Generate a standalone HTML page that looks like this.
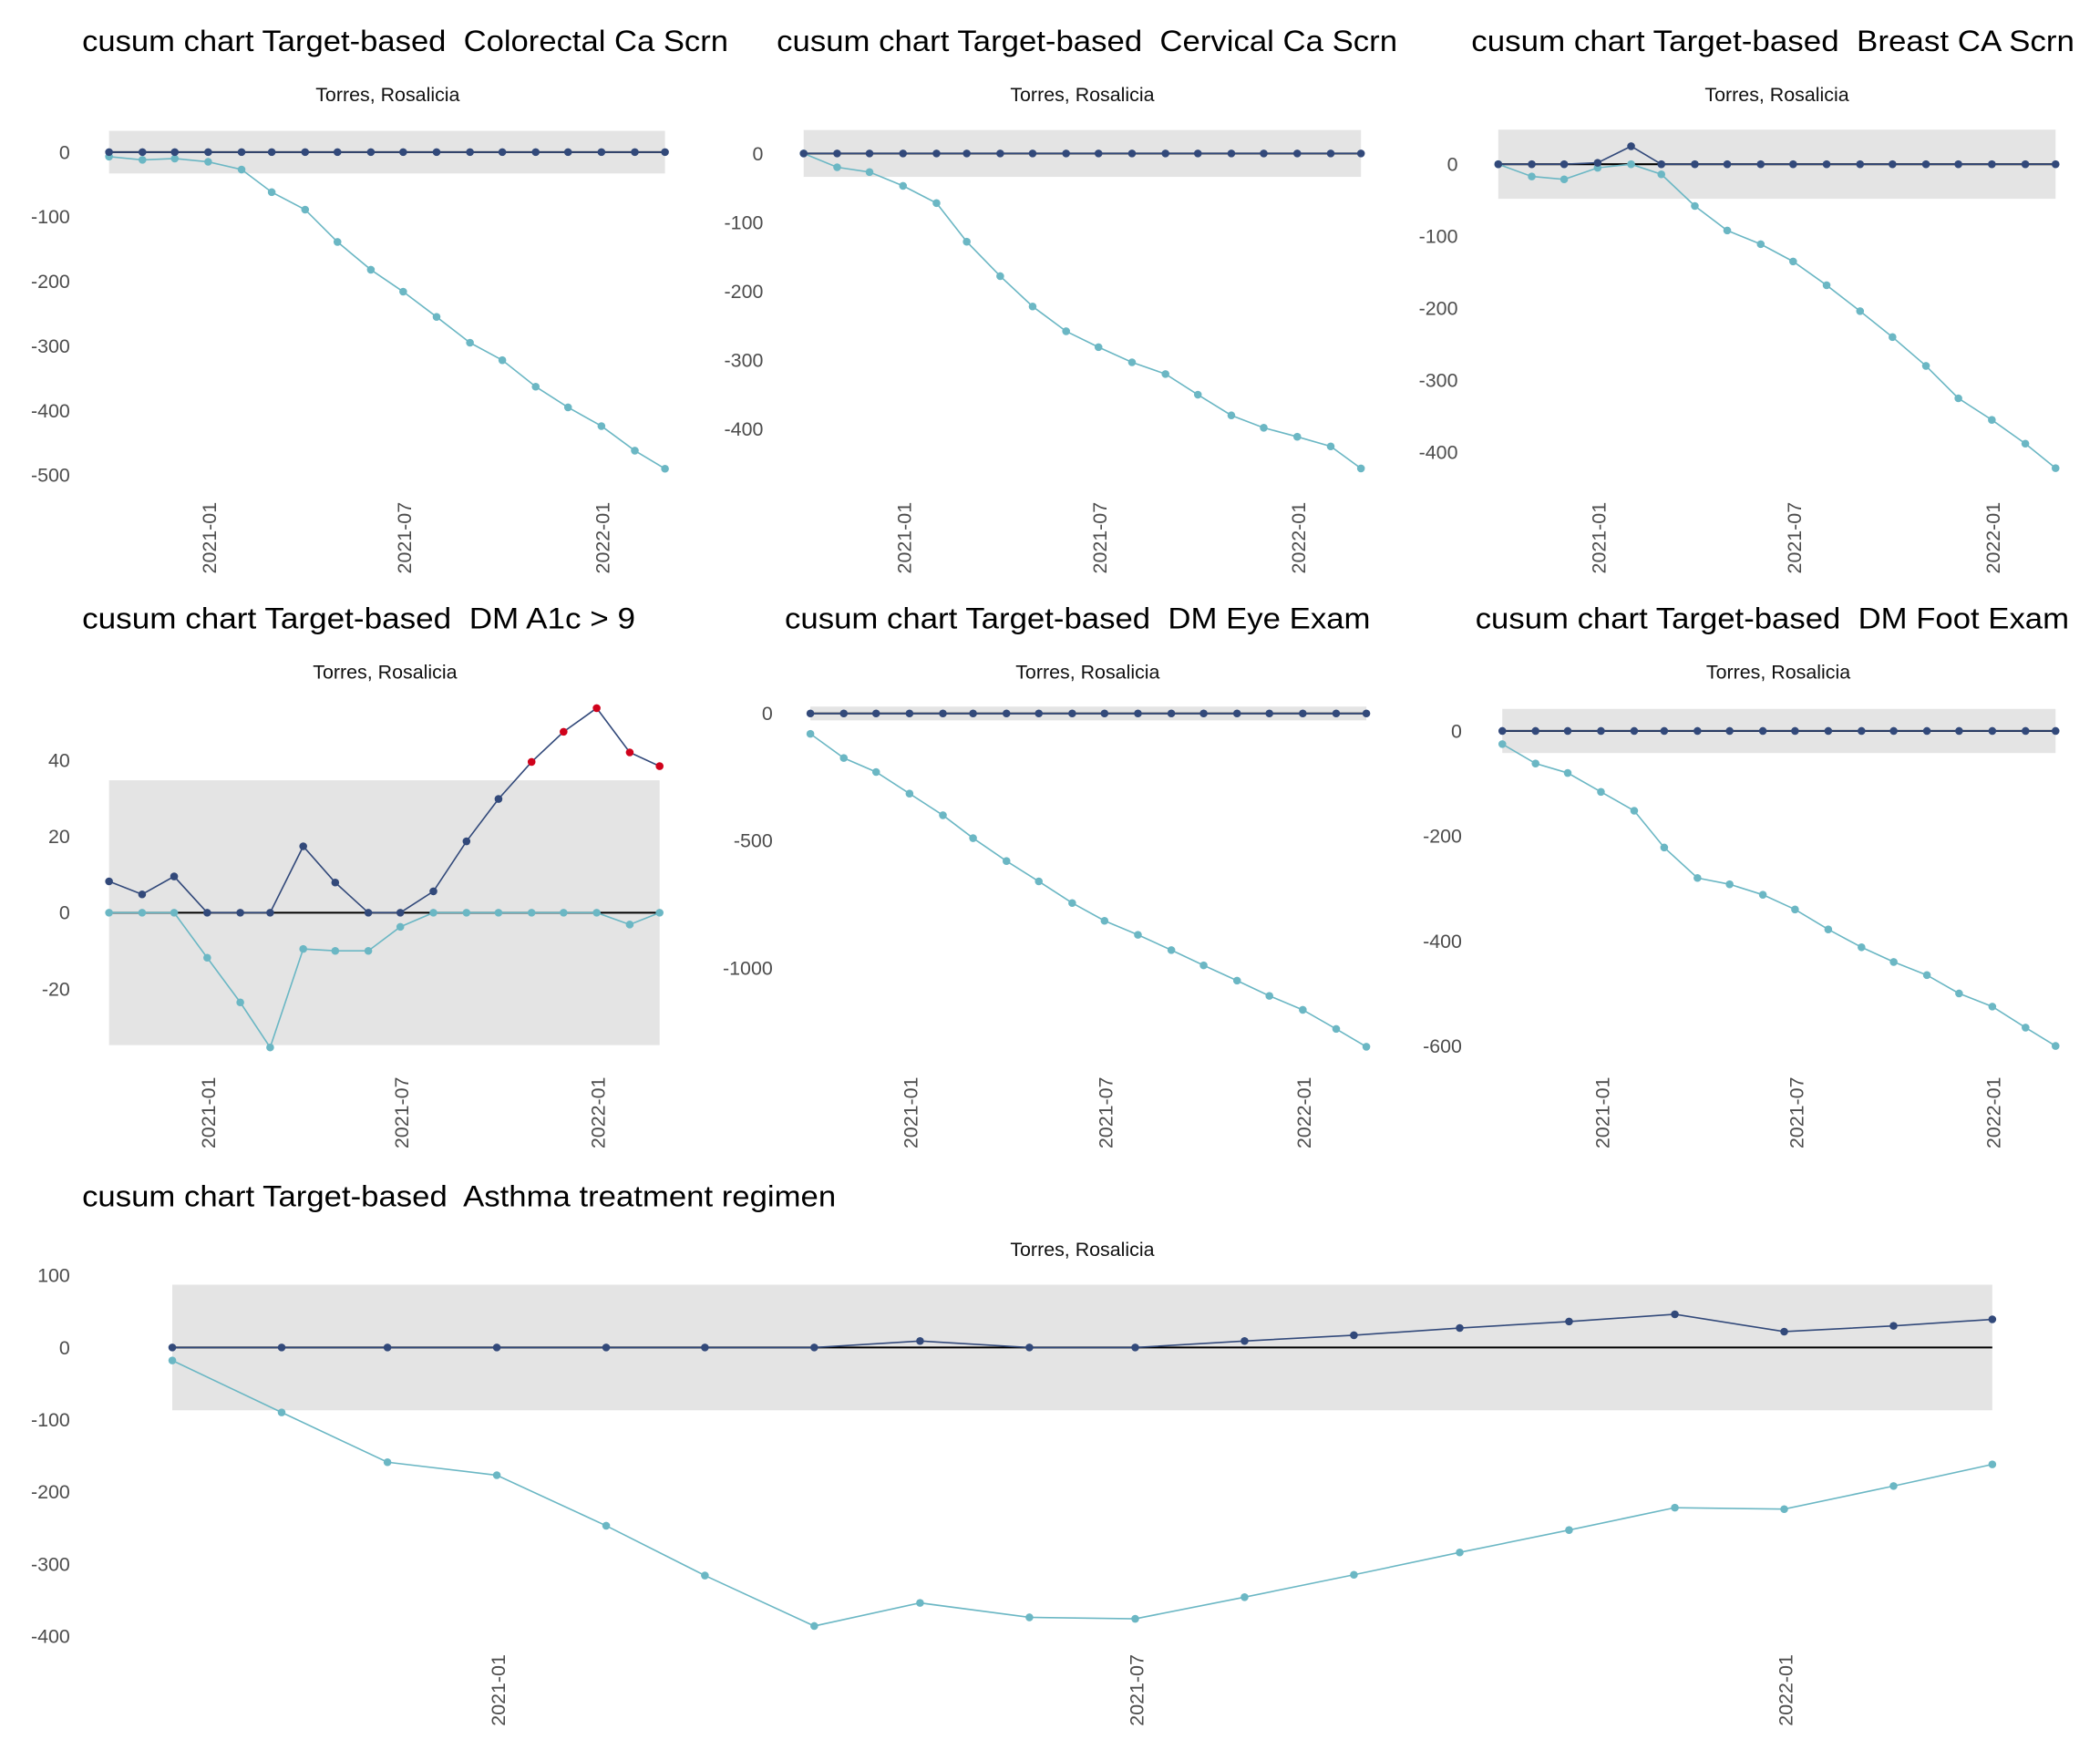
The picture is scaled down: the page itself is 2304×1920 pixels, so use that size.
<!DOCTYPE html>
<html><head><meta charset="utf-8">
<style>
html,body{margin:0;padding:0;background:#fff;}
svg{display:block;}
text{font-family:"Liberation Sans",Arial,sans-serif;white-space:pre;}
</style></head>
<body>
<svg id="chart" width="2304" height="1920" viewBox="0 0 1560 1300" xmlns="http://www.w3.org/2000/svg"></svg>
<script>
// ---- data ----
const months = ["2020-10-01","2020-11-01","2020-12-01","2021-01-01","2021-02-01","2021-03-01","2021-04-01","2021-05-01","2021-06-01","2021-07-01","2021-08-01","2021-09-01","2021-10-01","2021-11-01","2021-12-01","2022-01-01","2022-02-01","2022-03-01"];
const tickDates = ["2021-01-01","2021-07-01","2022-01-01"];
const tickDateLabels = ["2021-01","2021-07","2022-01"];

const titles = ["cusum chart Target-based  Colorectal Ca Scrn","cusum chart Target-based  Cervical Ca Scrn","cusum chart Target-based  Breast CA Scrn","cusum chart Target-based  DM A1c > 9","cusum chart Target-based  DM Eye Exam","cusum chart Target-based  DM Foot Exam","cusum chart Target-based  Asthma treatment regimen"];
const subtitle = "Torres, Rosalicia";

const upperColorectal = [0,0,0,0,0,0,0,0,0,0,0,0,0,0,0,0,0,0];
const lowerColorectal = [-7,-12,-10,-15,-27,-62,-89,-139,-182,-216,-255,-295,-322,-363,-395,-424,-462,-490];
const upperCervical = [0,0,0,0,0,0,0,0,0,0,0,0,0,0,0,0,0,0];
const lowerCervical = [0,-20,-27,-47,-72,-128,-178,-222,-258,-281,-303,-320,-350,-380,-398,-411,-425,-457];
const upperBreast = [0,0,0,2,25,0,0,0,0,0,0,0,0,0,0,0,0,0];
const lowerBreast = [0,-17,-21,-5,0,-14,-58,-92,-111,-135,-168,-204,-240,-280,-325,-355,-388,-422];
const upperA1c = [8.2,4.8,9.5,0,0,0,17.4,7.9,0,0,5.6,18.7,29.8,39.5,47.4,53.6,42,38.4];
const lowerA1c = [0,0,0,-11.8,-23.5,-35.3,-9.5,-10,-10,-3.7,0,0,0,0,0,0,-3.1,0];
const upperEye = [0,0,0,0,0,0,0,0,0,0,0,0,0,0,0,0,0,0];
const lowerEye = [-80,-175,-230,-315,-400,-490,-580,-660,-745,-815,-870,-930,-990,-1050,-1110,-1165,-1240,-1310];
const upperFoot = [0,0,0,0,0,0,0,0,0,0,0,0,0,0,0,0,0,0];
const lowerFoot = [-25,-62,-80,-116,-152,-222,-280,-292,-312,-340,-378,-412,-440,-465,-500,-525,-565,-600];
const upperAsthma = [0,0,0,0,0,0,0,9,0,0,9,17,27,36,46,22,30,39];
const lowerAsthma = [-18,-90,-159,-177,-247,-316,-386,-354,-374,-376,-346,-315,-284,-253,-222,-224,-192,-162];

const limits = [33,34,48,34.7,27,42,87];
const yTicks = [[0,-100,-200,-300,-400,-500],[0,-100,-200,-300,-400],[0,-100,-200,-300,-400],[40,20,0,-20],[0,-500,-1000],[0,-200,-400,-600],[100,0,-100,-200,-300,-400]];

// ---- layout (display units) ----
const panels = [
 {x0:81,x1:494,y0v:0,y0:113,ppu:0.48,tx:61,ty:38,tw:480,sx:288,sy:75,lx:52,ly:373,up:upperColorectal,lo:lowerColorectal},
 {x0:597,x1:1011,y0v:0,y0:114,ppu:0.512,tx:577,ty:38,tw:461,sx:804,sy:75,lx:567,ly:373,up:upperCervical,lo:lowerCervical},
 {x0:1113,x1:1527,y0v:0,y0:122,ppu:0.535,tx:1093,ty:38,tw:448,sx:1320,sy:75,lx:1083,ly:373,up:upperBreast,lo:lowerBreast},
 {x0:81,x1:490,y0v:0,y0:678,ppu:2.835,tx:61,ty:467,tw:411,sx:286,sy:504,lx:52,ly:800,up:upperA1c,lo:lowerA1c},
 {x0:602,x1:1015,y0v:0,y0:530,ppu:0.189,tx:583,ty:467,tw:435,sx:808,sy:504,lx:574,ly:800,up:upperEye,lo:lowerEye},
 {x0:1116,x1:1527,y0v:0,y0:543,ppu:0.39,tx:1096,ty:467,tw:441,sx:1321,sy:504,lx:1086,ly:800,up:upperFoot,lo:lowerFoot},
 {x0:128,x1:1480,y0v:0,y0:1001,ppu:0.536,tx:61,ty:896,tw:560,sx:804,sy:933,lx:52,ly:1229,up:upperAsthma,lo:lowerAsthma}
];
const NS="http://www.w3.org/2000/svg";
const svg=document.getElementById('chart');
function mk(tag,attrs,parent){const e=document.createElementNS(NS,tag);for(const k in attrs)e.setAttribute(k,attrs[k]);(parent||svg).appendChild(e);return e;}
const t0=Date.parse(months[0]), t1=Date.parse(months[months.length-1]);

panels.forEach((p,pi)=>{
  const g=mk('g',{});
  
  
  const xs=d=>p.x0+(Date.parse(d)-t0)/(t1-t0)*(p.x1-p.x0);
  const ys=v=>p.y0-(v-p.y0v)*p.ppu;
  const title=mk('text',{x:p.tx,y:p.ty,'font-size':22,fill:'#000',textLength:p.tw,lengthAdjust:'spacingAndGlyphs'},g);
  title.textContent=titles[pi];
  
  
  const sub=mk('text',{x:p.sx,y:p.sy,'font-size':14.5,fill:'#111','text-anchor':'middle'},g);
  sub.textContent=subtitle;
  
  
  const band=mk('rect',{x:p.x0,y:ys(limits[pi]),width:p.x1-p.x0,height:ys(-limits[pi])-ys(limits[pi]),fill:'#e4e4e4'},g);
  
  
  yTicks[pi].forEach(v=>{
    const t=mk('text',{x:p.lx,y:ys(v)+5,'font-size':14.5,fill:'#4d4d4d','text-anchor':'end'},g);
    t.textContent=String(v);
    
    
  });
  tickDates.forEach((d,i)=>{
    const x=xs(d)+1;
    const t=mk('text',{x:0,y:0,'font-size':14.5,fill:'#4d4d4d','text-anchor':'end',transform:`translate(${x+5},${p.ly}) rotate(-90)`},g);
    t.textContent=tickDateLabels[i];
    
    
  });
  const zl=mk('line',{x1:p.x0,x2:p.x1,y1:ys(0),y2:ys(0),stroke:'#000','stroke-width':1.4},g);
  
  
  const series=[[p.lo,'#6bb7c4','lower-cusum'],[p.up,'#32497a','upper-cusum']];
  series.forEach(([vals,col,nm])=>{
    const pts=vals.map((v,i)=>xs(months[i]).toFixed(2)+','+ys(v).toFixed(2)).join(' ');
    const pl=mk('polyline',{points:pts,fill:'none',stroke:col,'stroke-width':1.1},g);
    
    
    vals.forEach((v,i)=>{
      const out=Math.abs(v)>limits[pi];
      const c=mk('circle',{cx:xs(months[i]),cy:ys(v),r:2.9,fill:(nm==='upper-cusum'&&out)?'#d0021b':col},g);
      
      
    });
  });
});
</script>
</body></html>
